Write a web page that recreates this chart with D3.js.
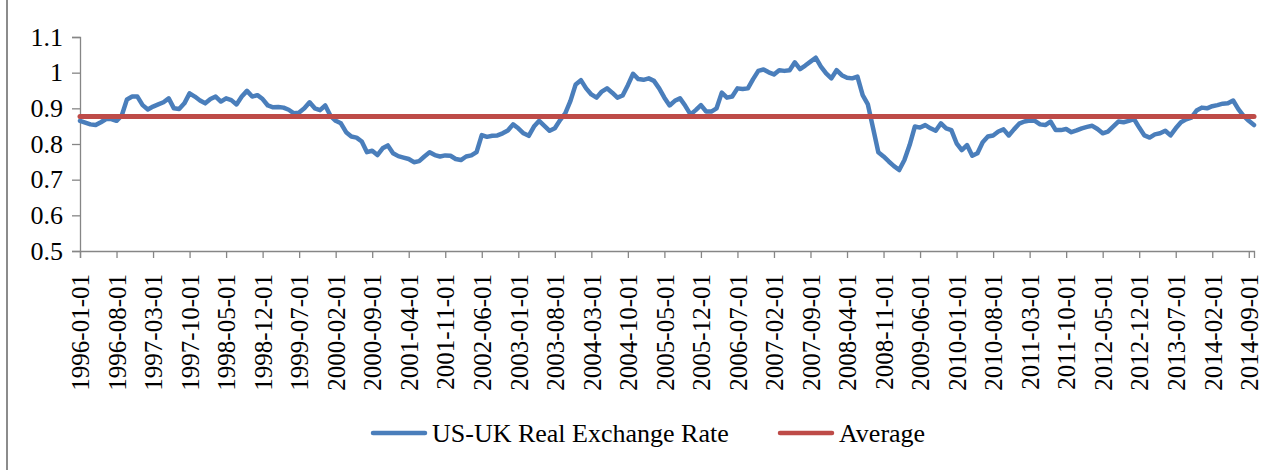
<!DOCTYPE html>
<html>
<head>
<meta charset="utf-8">
<script src="https://cdn.jsdelivr.net/npm/d3@7"></script>
<style>
  body { margin: 0; background: #fff; }
  text { font-family: "Liberation Serif", "Times New Roman", serif; fill: #000; }
</style>
</head>
<body>
<svg id="chart" width="1282" height="470"></svg>
<script>
// monthly series, 1996-01 .. 2014-10
const startYear = 1996, startMonth = 1, nMonths = 226

const rate1996 = [0.865, 0.860, 0.855, 0.853, 0.861, 0.870, 0.870, 0.865, 0.880, 0.925,
                  0.933, 0.933, 0.909, 0.897, 0.905, 0.911, 0.917, 0.928, 0.900, 0.898,
                  0.914, 0.942, 0.933, 0.922, 0.914, 0.926, 0.933, 0.919, 0.928, 0.923,
                  0.911, 0.933, 0.949, 0.933, 0.937, 0.926, 0.908, 0.903]
const rate1999 = [0.904, 0.902, 0.896, 0.886, 0.888, 0.900, 0.917, 0.900, 0.895, 0.908,
                  0.879, 0.865, 0.858, 0.833, 0.821, 0.818, 0.807, 0.777, 0.781, 0.769,
                  0.788, 0.796, 0.774, 0.766, 0.762, 0.758, 0.749, 0.752, 0.765, 0.777,
                  0.769, 0.765, 0.768, 0.767, 0.758, 0.755, 0.765]
const rate2002 = [0.768, 0.777, 0.825, 0.820, 0.823, 0.824, 0.830, 0.838, 0.855, 0.844,
                  0.830, 0.823, 0.849, 0.865, 0.851, 0.837, 0.844, 0.867, 0.886, 0.921,
                  0.967, 0.979, 0.956, 0.939, 0.930, 0.947, 0.956, 0.944, 0.930, 0.936,
                  0.965, 0.997, 0.982, 0.980, 0.984, 0.977, 0.956, 0.930]
const rate2005 = [0.908, 0.921, 0.928, 0.907, 0.883, 0.895, 0.909, 0.891, 0.891, 0.900,
                  0.944, 0.930, 0.933, 0.956, 0.954, 0.956, 0.982, 1.005, 1.009, 1.001,
                  0.995, 1.007, 1.005, 1.007, 1.029, 1.010, 1.020, 1.031, 1.042, 1.017,
                  0.998, 0.984, 1.007, 0.993, 0.986, 0.984, 0.989]
const rate2008 = [0.937, 0.911, 0.844, 0.777, 0.765, 0.751, 0.738, 0.727, 0.755, 0.797,
                  0.849, 0.846, 0.853, 0.844, 0.837, 0.858, 0.844, 0.839, 0.802, 0.783,
                  0.797, 0.767, 0.774, 0.805, 0.821, 0.824, 0.835, 0.841, 0.824, 0.841,
                  0.857, 0.863, 0.866, 0.865, 0.855, 0.853, 0.863]
const rate2011 = [0.839, 0.839, 0.842, 0.833, 0.838, 0.844, 0.848, 0.851, 0.842, 0.830,
                  0.835, 0.849, 0.863, 0.861, 0.865, 0.870, 0.846, 0.824, 0.818, 0.827,
                  0.830, 0.837, 0.824, 0.844, 0.861, 0.869, 0.874, 0.894, 0.902, 0.900,
                  0.906, 0.909, 0.913, 0.914, 0.922, 0.898, 0.879, 0.865, 0.853]
const averageRate = 0.877

const yTicks = [0.5, 0.6, 0.7, 0.8, 0.9, 1, 1.1]
const yTickLabels = ["0.5", "0.6", "0.7", "0.8", "0.9", "1", "1.1"]
const xTickEvery = 7
const seriesNames = ["US-UK Real Exchange Rate", "Average"]
const seriesColours = ["#4A7EBB", "#BE4B48"]

const rates = [].concat(rate1996, rate1999, rate2002, rate2005, rate2008, rate2011)

// category labels, "YYYY-MM-01"
let months = []
for(let i = 0; i < nMonths; i++){
  let m = startMonth - 1 + i
  let yy = startYear + Math.floor(m / 12)
  let mm = (m % 12) + 1
  months.push(yy + "-" + (mm < 10 ? "0" + mm : mm) + "-01")
}
const data = months.map((d, i) => ({month: d, rate: rates[i], avg: averageRate}))

let svg = d3.select("#chart"),
    margin = {left: 80, right: 28, top: 37, bottom: 219},
    width = +svg.attr("width") - margin.left - margin.right,
    height = +svg.attr("height") - margin.top - margin.bottom

// outer frame (only the left edge falls inside the picture)
svg.append("rect")
   .attr("x", 7)
   .attr("y", -10)
   .attr("width", 1400)
   .attr("height", 600)
   .attr("fill", "none")
   .attr("stroke", "#8c8c8c")
   .attr("stroke-width", 2)

let focus = svg.append("g")
               .attr("transform", "translate(" + margin.left + "," + margin.top + ")")

let x = d3.scalePoint()
          .domain(months)
          .range([0, width])

let y = d3.scaleLinear()
          .domain([0.5, 1.1])
          .range([height, 0])

// y axis
let yAxis = focus.append("g")
                 .attr("class", "axis axis--y")
                 .call(d3.axisLeft(y)
                         .tickValues(yTicks)
                         .tickFormat((d, i) => yTickLabels[i])
                         .tickSize(8)
                         .tickPadding(9))
yAxis.selectAll("text")
     .style("font-size", "26px")
     .style("font-family", "Liberation Serif")

// x axis
let xAxis = focus.append("g")
                 .attr("class", "axis axis--x")
                 .attr("transform", "translate(0," + height + ")")
                 .call(d3.axisBottom(x)
                         .tickValues(months.filter((d, i) => i % xTickEvery == 0))
                         .tickSize(7))
xAxis.selectAll("text")
     .attr("transform", "rotate(-90)")
     .attr("text-anchor", "end")
     .attr("x", -23)
     .attr("y", 0)
     .attr("dy", "0.35em")
     .style("font-size", "25px")
     .style("font-family", "Liberation Serif")

svg.selectAll(".axis path, .axis line")
   .attr("stroke", "#868686")
   .attr("stroke-width", 1.3)

// lines
let lineRate = d3.line()
                 .x(d => x(d.month))
                 .y(d => y(d.rate))
let lineAvg = d3.line()
                .x(d => x(d.month))
                .y(d => y(d.avg))

focus.append("path")
     .datum(data)
     .attr("d", lineRate)
     .attr("fill", "none")
     .attr("stroke", seriesColours[0])
     .attr("stroke-width", 4.5)
     .attr("stroke-linejoin", "round")
     .attr("stroke-linecap", "round")

focus.append("path")
     .datum(data)
     .attr("d", lineAvg)
     .attr("fill", "none")
     .attr("stroke", seriesColours[1])
     .attr("stroke-width", 5)
     .attr("stroke-linecap", "round")

// legend
let legendPos = [373, 780]
let legend = svg.selectAll(".legend")
                .data(seriesNames)
                .enter()
                .append("g")
                .attr("class", "legend")
                .attr("transform", (d, i) => "translate(" + legendPos[i] + ",433)")
legend.append("line")
      .attr("x1", 0)
      .attr("x2", 52)
      .attr("stroke", (d, i) => seriesColours[i])
      .attr("stroke-width", 4.5)
      .attr("stroke-linecap", "round")
legend.append("text")
      .attr("x", 59)
      .attr("dy", "0.35em")
      .style("font-size", "26px")
      .text(d => d)
</script>
</body>
</html>
